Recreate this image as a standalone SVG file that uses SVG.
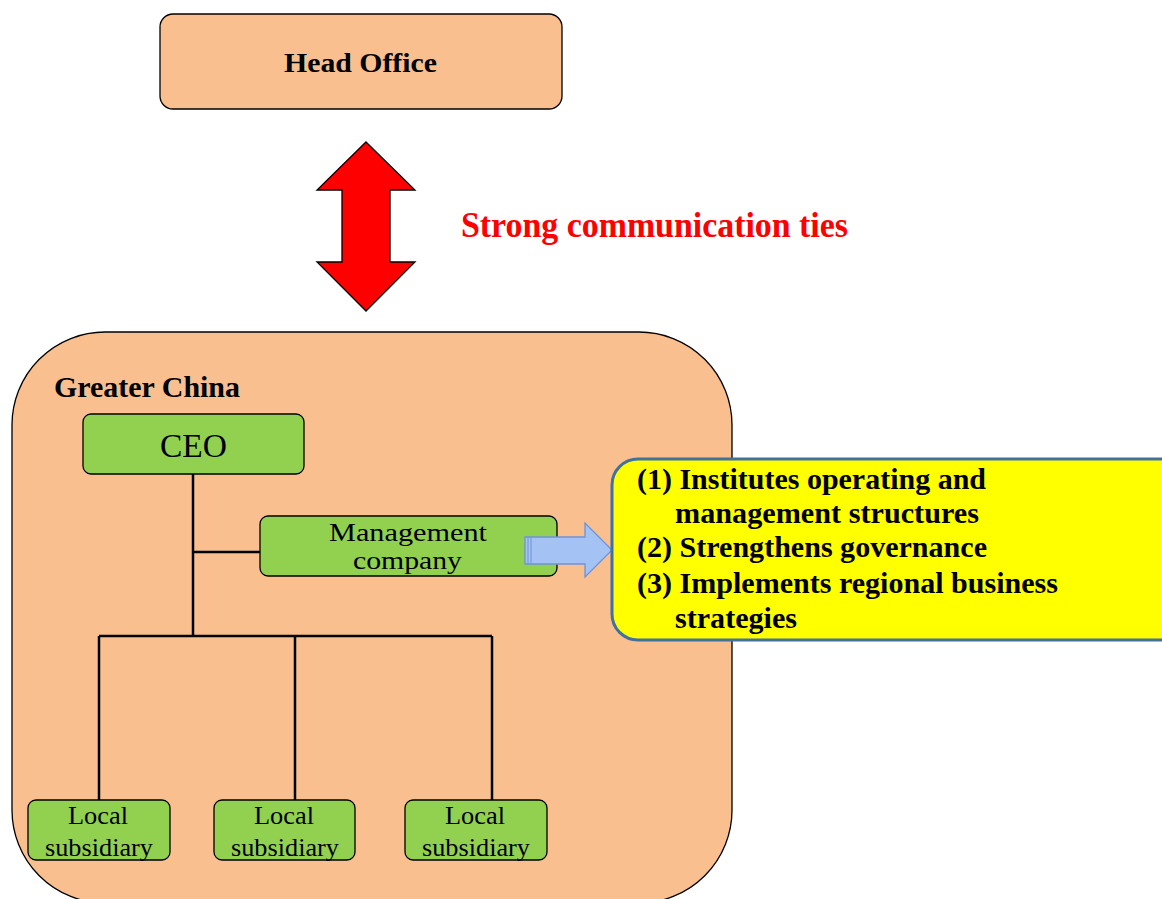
<svg xmlns="http://www.w3.org/2000/svg" width="1162" height="899" viewBox="0 0 1162 899">
<style>
text{font-family:"Liberation Serif","Times New Roman",serif;fill:#000}
.b{font-weight:bold}
.green{fill:#92D050;stroke:#000;stroke-width:1.3}
.ln{stroke:#000;stroke-width:2.5;fill:none}
.ctr{text-anchor:middle}
.y{font-weight:bold;font-size:30px}
</style>
<rect width="1162" height="899" fill="#fff"/>
<g id="head-office">
<rect x="160" y="14" width="402" height="95" rx="13" fill="#F9BF8F" stroke="#000" stroke-width="1.3"/>
<text x="284" y="72" class="b" font-size="28" textLength="153" lengthAdjust="spacingAndGlyphs">Head Office</text>
</g>
<g id="comm-arrow">
<polygon points="366,142 415,190 390,190 390,262 415,262 366,311 317,262 342,262 342,190 317,190" fill="#FF0000" stroke="#000" stroke-width="1.3"/>
<text x="461" y="237" class="b" font-size="35" textLength="387" lengthAdjust="spacingAndGlyphs" style="fill:#FF0000">Strong communication ties</text>
</g>
<g id="greater-china">
<rect x="12" y="332" width="720" height="571" rx="93" fill="#F9BF8F" stroke="#000" stroke-width="1.3"/>
<text x="54" y="397" class="b" font-size="29" textLength="186" lengthAdjust="spacingAndGlyphs">Greater China</text>
</g>
<g id="connectors">
<path class="ln" d="M193,474 V636 M193,552 H260 M99,636 H492 M99,636 V800 M295,636 V800 M492,636 V800"/>
</g>
<g id="ceo">
<rect x="83" y="414" width="221" height="60" rx="8" class="green"/>
<text x="160" y="457" font-size="33" textLength="67" lengthAdjust="spacingAndGlyphs">CEO</text>
</g>
<g id="management-company">
<rect x="260" y="516" width="297" height="60" rx="8" class="green"/>
<text x="329" y="541" font-size="26" textLength="158" lengthAdjust="spacingAndGlyphs">Management</text>
<text x="353" y="569" font-size="26" textLength="109" lengthAdjust="spacingAndGlyphs">company</text>
</g>
<g id="local-1">
<rect x="28" y="800" width="142" height="60" rx="8" class="green"/>
<text x="98" y="824" class="ctr" font-size="25" textLength="60" lengthAdjust="spacingAndGlyphs">Local</text>
<text x="99" y="856" class="ctr" font-size="25" textLength="108" lengthAdjust="spacingAndGlyphs">subsidiary</text>
</g>
<g id="local-2">
<rect x="214" y="800" width="141" height="60" rx="8" class="green"/>
<text x="284" y="824" class="ctr" font-size="25" textLength="60" lengthAdjust="spacingAndGlyphs">Local</text>
<text x="285" y="856" class="ctr" font-size="25" textLength="108" lengthAdjust="spacingAndGlyphs">subsidiary</text>
</g>
<g id="local-3">
<rect x="405" y="800" width="142" height="60" rx="8" class="green"/>
<text x="475" y="824" class="ctr" font-size="25" textLength="60" lengthAdjust="spacingAndGlyphs">Local</text>
<text x="476" y="856" class="ctr" font-size="25" textLength="108" lengthAdjust="spacingAndGlyphs">subsidiary</text>
</g>
<g id="blue-arrow">
<polygon points="525,537 585,537 585,523 612,550 585,577 585,564 525,564" fill="#A4C2F4" stroke="#6F93D6" stroke-width="1.3"/>
<path d="M528,537 V564 M531,537 V564" stroke="#6F93D6" stroke-width="1"/>
</g>
<g id="functions">
<rect x="612" y="459" width="580" height="181" rx="26" fill="#FFFF00" stroke="#41719C" stroke-width="3"/>
<text x="637" y="489" class="y" textLength="349" lengthAdjust="spacingAndGlyphs">(1) Institutes operating and</text>
<text x="675" y="523" class="y" textLength="304" lengthAdjust="spacingAndGlyphs">management structures</text>
<text x="637" y="557" class="y" textLength="350" lengthAdjust="spacingAndGlyphs">(2) Strengthens governance</text>
<text x="637" y="593" class="y" textLength="421" lengthAdjust="spacingAndGlyphs">(3) Implements regional business</text>
<text x="675" y="628" class="y" textLength="122" lengthAdjust="spacingAndGlyphs">strategies</text>
</g>
</svg>
